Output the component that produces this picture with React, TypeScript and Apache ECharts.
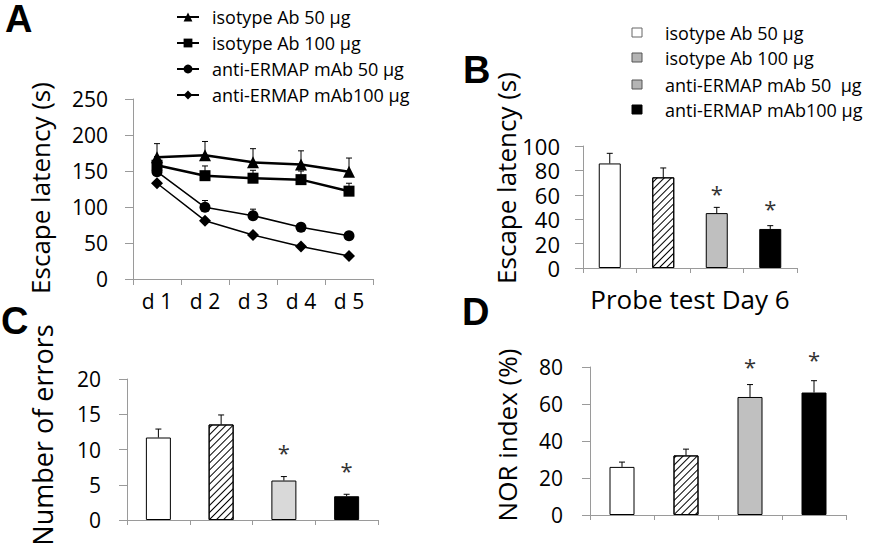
import React, { useEffect, useRef } from "react";
import * as echarts from "echarts";

// ---------- data ----------
const days = ["d 1", "d 2", "d 3", "d 4", "d 5"];
const lineNames = [
  "isotype Ab 50 μg",
  "isotype Ab 100 μg",
  "anti-ERMAP mAb 50 μg",
  "anti-ERMAP mAb100 μg",
];
const isoAb50 = [169, 172, 162, 159, 149];
const isoAb50Top = [188, 191, 181, 178, 168];
const isoAb100 = [158, 143.5, 140, 138, 122];
const isoAb100Top = [170, 157, 151, 150, 133];
const ermap50 = [149, 99.5, 88, 72, 60];
const ermap50Top = [154, 109, 97, 77, 62];
const ermap100 = [133, 81, 61, 45, 32];
const ermap100Top = [136, 84, 63, 47, 34];

const groups = [
  "isotype Ab 50 μg",
  "isotype Ab 100 μg",
  "anti-ERMAP mAb 50  μg",
  "anti-ERMAP mAb100 μg",
];
const probeVals = [85.7, 74.3, 45, 32];
const probeTop = [94, 82, 49.7, 34.7];
const probeStar = [null, null, 65.8, 53.5];

const errorVals = [11.7, 13.55, 5.6, 3.37];
const errorTop = [12.9, 14.9, 6.16, 3.65];
const errorStar = [null, null, 10.4, 7.8];

const norVals = [26, 32.2, 63.8, 66.2];
const norTop = [28.6, 35.6, 70.5, 72.6];
const norStar = [null, null, 83.2, 87.2];

// ---------- styles ----------
const FONT = "Open Sans";
const AXIS_GRAY = "#9a9a9a";
const hatch = {
  symbol: "rect",
  symbolSize: 1,
  color: "#000",
  dashArrayX: [1, 0],
  dashArrayY: [1, 4],
  rotation: -Math.PI / 4,
};

function barItems(vals: number[], third: string) {
  const fills = ["#ffffff", "#ffffff", third, "#000000"];
  return vals.map((v, i) => ({
    value: v,
    itemStyle: {
      color: fills[i],
      borderColor: "#000",
      borderWidth: 1,
      ...(i === 1 ? { decal: hatch } : {}),
    },
  }));
}

function errSeries(idx: number, vals: number[], tops: number[], cap: number, z = 1) {
  return {
    type: "custom",
    xAxisIndex: idx,
    yAxisIndex: idx,
    z,
    silent: true,
    data: vals.map((v, i) => [i, v, tops[i]]),
    renderItem: (params: any, api: any) => {
      const p0 = api.coord([api.value(0), api.value(1)]);
      const p1 = api.coord([api.value(0), api.value(2)]);
      return {
        type: "group",
        children: [
          {
            type: "line",
            shape: { x1: p0[0], y1: p0[1], x2: p1[0], y2: p1[1] },
            style: { stroke: "#000", lineWidth: 1 },
          },
          {
            type: "line",
            shape: { x1: p1[0] - cap, y1: p1[1], x2: p1[0] + cap, y2: p1[1] },
            style: { stroke: "#000", lineWidth: 1 },
          },
        ],
      };
    },
  };
}

function starSeries(idx: number, stars: (number | null)[]) {
  return {
    type: "custom",
    xAxisIndex: idx,
    yAxisIndex: idx,
    silent: true,
    data: stars.map((s, i) => (s === null ? [i, "-"] : [i, s])),
    renderItem: (params: any, api: any) => {
      const y = api.value(1);
      if (isNaN(y)) return null;
      const p = api.coord([api.value(0), y]);
      return {
        type: "text",
        x: p[0],
        y: p[1] + 5,
        style: {
          text: "*",
          fontSize: 22,
          fontFamily: FONT,
          fill: "#333",
          align: "center",
          verticalAlign: "middle",
        },
      };
    },
  };
}

function catAxis(idx: number, data: string[], showLabel: boolean, extra: any = {}) {
  return {
    type: "category",
    gridIndex: idx,
    data,
    boundaryGap: true,
    axisLine: { lineStyle: { color: AXIS_GRAY, width: 1 } },
    axisTick: { show: true, interval: 0, length: 6, lineStyle: { color: AXIS_GRAY } },
    axisLabel: {
      show: showLabel,
      interval: 0,
      color: "#000",
      fontFamily: FONT,
      fontSize: 21,
      margin: 11,
    },
    splitLine: { show: false },
    ...extra,
  };
}

function valAxis(idx: number, max: number, interval: number, fontSize: number, margin: number) {
  return {
    type: "value",
    gridIndex: idx,
    min: 0,
    max,
    interval,
    axisLine: { show: true, lineStyle: { color: AXIS_GRAY, width: 1 } },
    axisTick: { show: true, length: 8, lineStyle: { color: AXIS_GRAY } },
    axisLabel: { color: "#000", fontFamily: FONT, fontSize, margin },
    splitLine: { show: false },
  };
}

function rotTitle(text: string, x: number, y: number, size: number) {
  return {
    type: "text",
    x,
    y,
    rotation: Math.PI / 2,
    style: {
      text,
      fontSize: size,
      fontFamily: FONT,
      fill: "#000",
      align: "center",
      verticalAlign: "middle",
    },
  };
}

function letter(text: string, x: number, y: number) {
  return {
    type: "text",
    x,
    y,
    style: {
      text,
      fontSize: 38,
      fontWeight: "bold",
      fontFamily: "Liberation Sans",
      fill: "#000",
      align: "left",
      verticalAlign: "top",
    },
  };
}

const legendBFills = [
  ["#ffffff", "#666"],
  ["#b4b4b4", "#555"],
  ["#b4b4b4", "#555"],
  ["#000000", "#000"],
];
const legendBRows = [33, 58, 85, 110];

export default function App() {
  const ref = useRef<HTMLDivElement>(null);
  useEffect(() => {
    if (!ref.current) return;
    const chart = echarts.init(ref.current, null, { renderer: "svg" });

    const symbols = ["triangle", "rect", "circle", "diamond"];
    const sizes = [12, 11, 11, 12];
    const widths = [2.5, 2.5, 1.5, 1.5];
    const lineData = [isoAb50, isoAb100, ermap50, ermap100];
    const lineTops = [isoAb50Top, isoAb100Top, ermap50Top, ermap100Top];

    const lineSeries = lineData.map((d, i) => ({
      type: "line",
      name: lineNames[i],
      xAxisIndex: 0,
      yAxisIndex: 0,
      data: d,
      symbol: symbols[i],
      symbolSize: sizes[i],
      z: 3,
      lineStyle: { color: "#000", width: widths[i] },
      itemStyle: { color: "#000" },
    }));
    const lineErr = lineData.map((d, i) => errSeries(0, d, lineTops[i], 3, 1));

    const graphic: any[] = [
      letter("A", 5, 0),
      letter("B", 463, 51),
      letter("C", 1, 302),
      letter("D", 462, 293),
      rotTitle("Escape latency (s)", 40, 188, 26),
      rotTitle("Escape latency (s)", 506, 178, 26),
      rotTitle("Number of errors", 42, 435, 27),
      rotTitle("NOR index (%)", 507, 435, 26),
    ];
    legendBRows.forEach((y, i) => {
      graphic.push({
        type: "rect",
        shape: { x: 632, y: y - 5, width: 10, height: 9 },
        style: { fill: legendBFills[i][0], stroke: legendBFills[i][1], lineWidth: 1 },
      });
      graphic.push({
        type: "text",
        x: 665,
        y,
        style: {
          text: groups[i],
          fontSize: 18,
          fontFamily: FONT,
          fill: "#000",
          align: "left",
          verticalAlign: "middle",
        },
      });
    });

    chart.setOption({
      animation: false,
      backgroundColor: "#fff",
      textStyle: { fontFamily: FONT },
      legend: {
        data: lineNames,
        orient: "vertical",
        left: 176,
        top: 8,
        itemWidth: 22,
        itemHeight: 11,
        itemGap: 8,
        padding: 0,
        textStyle: { fontSize: 18, fontFamily: FONT, color: "#000", lineHeight: 18, padding: [0, 0, 0, 8] },
      },
      grid: [
        { left: 133, top: 99, width: 240, height: 180 },
        { left: 583, top: 146, width: 214, height: 122 },
        { left: 127, top: 379, width: 251, height: 141 },
        { left: 590, top: 367, width: 256, height: 148 },
      ],
      xAxis: [
        catAxis(0, days, true),
        catAxis(1, groups, false, {
          name: "Probe test Day 6",
          nameLocation: "middle",
          nameGap: 18,
          nameTextStyle: { fontSize: 26, fontFamily: FONT, color: "#000", verticalAlign: "top" },
          axisTick: { show: true, interval: 0, length: 5, lineStyle: { color: AXIS_GRAY } },
        }),
        catAxis(2, groups, false, { axisTick: { show: true, interval: 0, length: 5, lineStyle: { color: AXIS_GRAY } } }),
        catAxis(3, groups, false, { axisTick: { show: true, interval: 0, length: 5, lineStyle: { color: AXIS_GRAY } } }),
      ],
      yAxis: [
        valAxis(0, 250, 50, 21, 25),
        valAxis(1, 100, 20, 22, 23),
        valAxis(2, 20, 5, 21, 26),
        valAxis(3, 80, 20, 21, 27),
      ],
      series: [
        ...lineErr,
        ...lineSeries,
        {
          type: "bar",
          xAxisIndex: 1,
          yAxisIndex: 1,
          barWidth: 22,
          data: barItems(probeVals, "#bfbfbf"),
        },
        errSeries(1, probeVals, probeTop, 3, 3),
        starSeries(1, probeStar),
        {
          type: "bar",
          xAxisIndex: 2,
          yAxisIndex: 2,
          barWidth: 25,
          data: barItems(errorVals, "#d9d9d9"),
        },
        errSeries(2, errorVals, errorTop, 3, 3),
        starSeries(2, errorStar),
        {
          type: "bar",
          xAxisIndex: 3,
          yAxisIndex: 3,
          barWidth: 25,
          data: barItems(norVals, "#c0c0c0"),
        },
        errSeries(3, norVals, norTop, 3, 3),
        starSeries(3, norStar),
      ],
      graphic,
    });
    return () => chart.dispose();
  }, []);
  return (
    <div
      ref={ref}
      style={{ position: "absolute", left: 0, top: 0, width: 896, height: 552 }}
    />
  );
}
